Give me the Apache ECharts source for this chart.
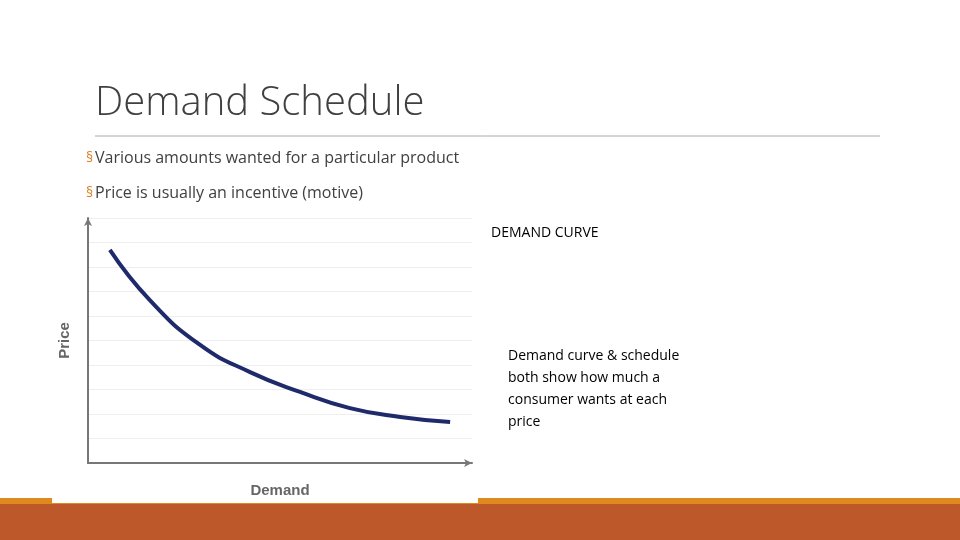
<!DOCTYPE html>
<html><head><meta charset="utf-8">
<script src="https://cdn.jsdelivr.net/npm/echarts@6/dist/echarts.min.js"></script>
<style>html,body{margin:0;background:#fff}#c{width:960px;height:540px}</style>
</head><body><div id="c"></div>
<script>
const demand = [5.7, 16.1, 29.2, 42.2, 55.2, 68.2, 81.3, 94.3];
const price = [87, 66.5, 48.2, 37.1, 29, 22.4, 18.8, 16.7];
const title = "Demand Schedule";
const bullets = ["Various amounts wanted for a particular product", "Price is usually an incentive (motive)"];
const chart = echarts.init(document.getElementById('c'));
chart.setOption({
  animation:false,
  backgroundColor:'#fff',
  grid:{left:88,right:488,top:218,bottom:77},
  xAxis:{type:'value',min:0,max:100,interval:10,
    name:'Demand',nameLocation:'middle',nameGap:20,
    nameTextStyle:{color:'#666',fontWeight:'bold',fontSize:15,fontFamily:'Liberation Sans'},
    axisLine:{lineStyle:{color:'#777',width:2},symbol:['none','arrow'],symbolSize:[6,8]},
    axisTick:{show:false},axisLabel:{show:false},splitLine:{show:false}},
  yAxis:{type:'value',min:0,max:100,interval:10,
    name:'Price',nameLocation:'middle',nameGap:16,
    nameTextStyle:{color:'#666',fontWeight:'bold',fontSize:15,fontFamily:'Liberation Sans'},
    axisLine:{show:true,lineStyle:{color:'#777',width:2},symbol:['none','arrow'],symbolSize:[6,8]},
    axisTick:{show:false},axisLabel:{show:false},
    splitLine:{show:true,lineStyle:{color:'#eee',width:1}}},
  series:[{type:'line',smooth:true,showSymbol:false,
    data:demand.map((d,i)=>[d,price[i]]),
    lineStyle:{color:'#1f2a6b',width:4}}],
  graphic:[
    {type:'text',left:95,top:84,style:{text:title,font:'300 40px "Open Sans"',fill:'#404040'}},
    {type:'line',shape:{x1:95,y1:136,x2:880,y2:136},style:{stroke:'#aaa',lineWidth:1}},
    {type:'text',left:86,top:151,style:{text:'§',font:'14px "Open Sans"',fill:'#d9822b'}},
    {type:'text',left:95,top:150,style:{text:bullets[0],font:'16px "Open Sans"',fill:'#404040'}},
    {type:'text',left:86,top:186,style:{text:'§',font:'14px "Open Sans"',fill:'#d9822b'}},
    {type:'text',left:95,top:185,style:{text:bullets[1],font:'16px "Open Sans"',fill:'#404040'}},
    {type:'text',left:491,top:226,style:{text:'DEMAND CURVE',font:'14px "Open Sans"',fill:'#000'}},
    {type:'text',left:508,top:345,style:{text:'Demand curve & schedule\nboth show how much a\nconsumer wants at each\nprice',font:'14px "Open Sans"',lineHeight:22,fill:'#000'}},
    {type:'rect',shape:{x:0,y:498,width:960,height:6},style:{fill:'#e0891f'}},
    {type:'rect',shape:{x:0,y:504,width:960,height:36},style:{fill:'#bd582b'}},
    {type:'rect',shape:{x:52,y:498,width:426,height:5},style:{fill:'#fff'}}
  ]
});
</script></body></html>
